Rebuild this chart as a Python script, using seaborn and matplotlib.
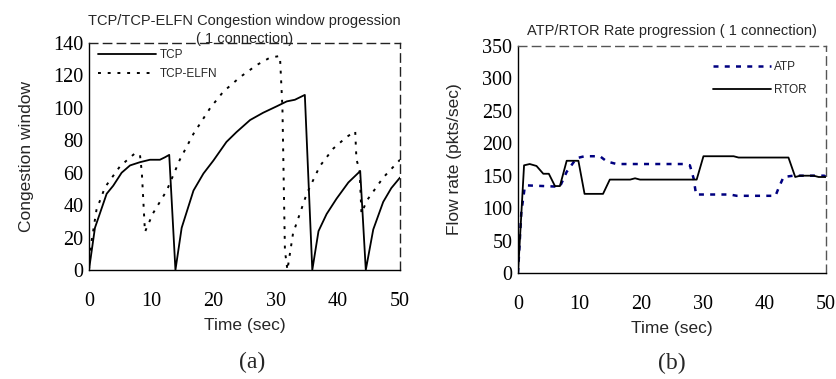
import pandas as pd
import matplotlib.pyplot as plt
import seaborn as sns

# ----------------------
# Data
# ----------------------
# (a) congestion window, TCP
tcp_t = [0, 0.96, 2.84, 3.9, 5.25, 6.6, 8.2, 9.8, 11.4, 12.2, 12.9, 13.9,
         14.9, 16.8, 18.4, 20.0, 22.1, 23.7, 25.9, 28.0, 30.2, 31.8, 33.1, 34.7, 35.9,
         36.9, 38.2, 39.8, 41.7, 43.6, 44.5,
         45.7, 47.3, 48.6, 50.0]
tcp_w = [0, 26, 47, 52, 60, 64.5, 66.5, 68, 68, 69.5, 71, 0,
         26, 49, 59.5, 67.5, 79, 85, 92.5, 97, 101, 104, 105, 108, 0,
         24, 34.5, 44, 54, 61, 0,
         25, 42, 50.5, 57]

# (a) congestion window, TCP-ELFN
elfn_t = [0, 0.43, 1.2, 2.57, 5.0, 7.4, 8.2, 8.5, 9.0,
          10.3, 12.5, 14.6, 16.8, 19.5, 21.6, 24.3, 27.0, 29.1, 30.7, 31.1, 31.5, 31.9,
          32.8, 35.0, 37.1, 39.3, 41.4, 42.8, 43.0, 43.5, 43.8,
          44.7, 47.3, 50.0]
elfn_w = [0, 18, 37, 51, 64, 72, 71, 60, 23.5,
          35, 49, 68, 84, 100, 110, 119, 126.5, 131, 132, 100, 12, 0,
          22.5, 47, 64, 75, 82, 85.5, 68, 62, 35,
          43, 57, 68]

# (b) flow rate, ATP
atp_t = [0, 0.54, 1.1, 1.6, 6.8, 7.9, 9.5, 10.8, 13.3, 14.4, 16.0, 26.8, 27.9,
         28.5, 28.9, 30.1, 34.4, 35.5, 41.8, 42.3, 43.1, 44.7, 49.7, 50.0]
atp_r = [0, 94, 133, 135, 133, 156, 177, 180, 180, 172, 168, 168, 166,
         146, 121, 121, 121, 119, 119, 131, 148, 150, 150, 148]

# (b) flow rate, RTOR
rtor_t = [0, 0.98, 1.9, 3.0, 4.1, 5.0, 6.0, 6.8, 7.9, 9.8, 10.8, 13.8, 14.9,
          18.2, 19.0, 19.8, 29.0, 30.1, 35.0, 35.8, 43.9, 45.0, 45.8, 48.0, 48.8, 50.0]
rtor_r = [0, 166, 168, 165, 153, 153, 134, 134, 173, 173, 122, 122, 144,
          144, 146, 144, 144, 180, 180, 178, 178, 148, 150, 150, 148, 148]

SERIF = ['Liberation Serif', 'DejaVu Serif']
SANS = ['Liberation Sans', 'DejaVu Sans']


def style_axes(ax, border_color):
    for side in ['left', 'bottom']:
        ax.spines[side].set_color('black')
        ax.spines[side].set_linewidth(1.0)
    for side in ['top', 'right']:
        ax.spines[side].set_visible(True)
        ax.spines[side].set_color(border_color)
        ax.spines[side].set_linestyle((0, (6, 4)))
        ax.spines[side].set_linewidth(1.0)
    ax.tick_params(direction='in', length=5, width=1, colors='black', labelsize=14.5)
    ax.tick_params(axis='x', pad=16)
    ax.tick_params(axis='y', pad=4)
    for lab in ax.get_xticklabels() + ax.get_yticklabels():
        lab.set_family(SERIF)
    ax.grid(False)


def main():
    sns.set_style('white')
    plt.rcParams['font.family'] = SANS

    fig = plt.figure(figsize=(8.37, 3.79), dpi=100)
    ax1 = fig.add_axes([0.1063, 0.2876, 0.3716, 0.5989])
    ax2 = fig.add_axes([0.6189, 0.2797, 0.3680, 0.5990])

    # ---- (a) congestion window ----
    df_tcp = pd.DataFrame({'t': tcp_t, 'w': tcp_w})
    df_elfn = pd.DataFrame({'t': elfn_t, 'w': elfn_w})
    sns.lineplot(data=df_tcp, x='t', y='w', ax=ax1, color='black', linewidth=1.3,
                 label='TCP', sort=False, estimator=None)
    sns.lineplot(data=df_elfn, x='t', y='w', ax=ax1, color='black', linewidth=1.4,
                 linestyle=(0, (1.5, 3.5)), label='TCP-ELFN', sort=False, estimator=None)
    ax1.set_xlim(0, 50)
    ax1.set_ylim(0, 140)
    ax1.set_xticks(range(0, 51, 10))
    ax1.set_yticks(range(0, 141, 20))
    ax1.set_xlabel('Time (sec)', fontsize=12.5, labelpad=5)
    ax1.set_ylabel('Congestion window', fontsize=12.5, labelpad=14)
    ax1.set_title('TCP/TCP-ELFN Congestion window progession\n( 1 connection)',
                  fontsize=10.5, pad=0, linespacing=1.35)
    style_axes(ax1, '#222222')
    ax1.legend(loc='upper left', bbox_to_anchor=(0.03, 0.975), frameon=False,
               fontsize=8.5, handlelength=4.9, handletextpad=0.3, labelspacing=0.6,
               borderpad=0, borderaxespad=0)

    # ---- (b) flow rate ----
    df_atp = pd.DataFrame({'t': atp_t, 'r': atp_r})
    df_rtor = pd.DataFrame({'t': rtor_t, 'r': rtor_r})
    sns.lineplot(data=df_atp, x='t', y='r', ax=ax2, color='#000080', linewidth=1.8,
                 linestyle=(0, (2, 2.5)), label='ATP', sort=False, estimator=None)
    sns.lineplot(data=df_rtor, x='t', y='r', ax=ax2, color='black', linewidth=1.3,
                 label='RTOR', sort=False, estimator=None)
    ax2.set_xlim(0, 50)
    ax2.set_ylim(0, 350)
    ax2.set_xticks(range(0, 51, 10))
    ax2.set_yticks(range(0, 351, 50))
    ax2.set_xlabel('Time (sec)', fontsize=12.5, labelpad=5)
    ax2.set_ylabel('Flow rate (pkts/sec)', fontsize=12.5, labelpad=15)
    ax2.set_title('ATP/RTOR Rate progression ( 1 connection)', fontsize=10.5, pad=8)
    style_axes(ax2, '#555555')
    ax2.legend(loc='upper left', bbox_to_anchor=(0.632, 0.935), frameon=False,
               fontsize=8.5, handlelength=4.9, handletextpad=0.3, labelspacing=0.95,
               borderpad=0, borderaxespad=0)

    # captions
    fig.text(252 / 837, 1 - 362 / 379, '(a)', ha='center', va='center',
             fontsize=17, family=SERIF)
    fig.text(672 / 837, 1 - 363 / 379, '(b)', ha='center', va='center',
             fontsize=17, family=SERIF)

    fig.savefig('out.png', dpi=100)
    plt.close(fig)


if __name__ == "__main__":
    main()
